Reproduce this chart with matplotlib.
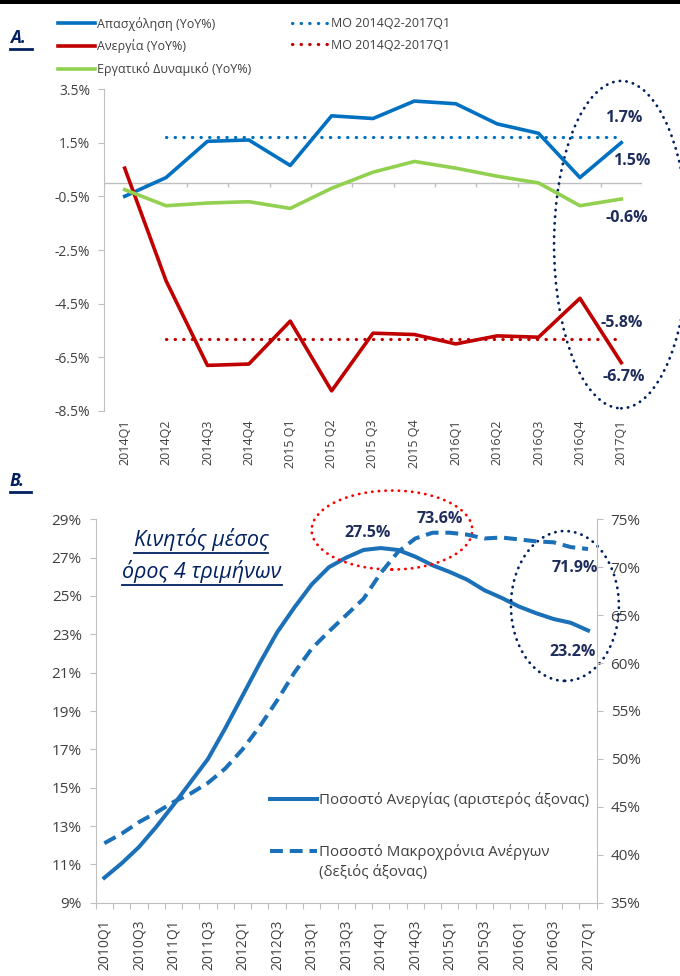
import numpy as np
import matplotlib
matplotlib.use('Agg')
import matplotlib.pyplot as plt
from matplotlib.lines import Line2D
from matplotlib.patches import Ellipse, Rectangle

plt.rcParams['font.family'] = ['Open Sans', 'DejaVu Sans']

# ---- panel A data (YoY %) ----
quarters_a = ['2014Q1', '2014Q2', '2014Q3', '2014Q4', '2015 Q1', '2015 Q2', '2015 Q3',
              '2015 Q4', '2016Q1', '2016Q2', '2016Q3', '2016Q4', '2017Q1']
employment = [-0.5, 0.2, 1.55, 1.6, 0.65, 2.5, 2.4, 3.05, 2.95, 2.2, 1.85, 0.2, 1.5]
unemployment = [0.55, -3.65, -6.8, -6.75, -5.15, -7.75, -5.6, -5.65, -6.0, -5.7, -5.75, -4.3, -6.7]
labour_force = [-0.25, -0.85, -0.75, -0.7, -0.95, -0.2, 0.4, 0.8, 0.55, 0.25, 0.0, -0.85, -0.6]
mo_employment = 1.7
mo_unemployment = -5.8
yticks_a = [-8.5, -6.5, -4.5, -2.5, -0.5, 1.5, 3.5]

# ---- panel B data (4-quarter moving average, %) ----
quarters_b = [f'{y}Q{q}' for y in range(2010, 2018) for q in range(1, 5)][:29]
unemp_rate = [10.3, 11.05, 11.9, 12.95, 14.1, 15.3, 16.5, 18.1, 19.8, 21.5, 23.1, 24.4,
              25.6, 26.5, 27.0, 27.4, 27.5, 27.4, 27.05, 26.6, 26.25, 25.85, 25.3, 24.9,
              24.45, 24.1, 23.8, 23.6, 23.2]
long_term = [41.2, 42.2, 43.4, 44.4, 45.5, 46.4, 47.5, 49.0, 51.0, 53.4, 56.1, 59.0,
             61.5, 63.3, 65.0, 66.7, 69.4, 71.6, 73.0, 73.6, 73.6, 73.4, 73.0, 73.1,
             72.9, 72.7, 72.6, 72.1, 71.9]

BLUE = '#0070C0'
RED = '#C00000'
GREEN = '#92D050'
BBLUE = '#1C70B8'
NAVY = '#1F2D5C'
DNAVY = '#002060'
GRID = '#BFBFBF'
TXT = '#404040'

fig = plt.figure(figsize=(6.8, 9.76), dpi=100)
W, H = 680, 976


def fig_box(x0, y0, x1, y1):
    return [x0 / W, 1 - y1 / H, (x1 - x0) / W, (y1 - y0) / H]


fig.add_artist(Rectangle((0, 1 - 4 / H), 1, 4 / H, transform=fig.transFigure,
                         color='black', lw=0))

# ================= panel A =================
axA = fig.add_axes(fig_box(104, 89, 642, 411))
xa = np.arange(len(quarters_a))
l_emp, = axA.plot(xa, employment, color=BLUE, lw=2.6, solid_joinstyle='round')
l_une, = axA.plot(xa, unemployment, color=RED, lw=2.6, solid_joinstyle='round')
l_lf, = axA.plot(xa, labour_force, color=GREEN, lw=2.6, solid_joinstyle='round')
dots = (0, (0.1, 2.6))
l_mo1, = axA.plot(xa[1:], [mo_employment] * (len(xa) - 1), color=BLUE, lw=2.3,
                  linestyle=dots, dash_capstyle='round')
l_mo2, = axA.plot(xa[1:], [mo_unemployment] * (len(xa) - 1), color=RED, lw=2.3,
                  linestyle=dots, dash_capstyle='round')

axA.set_xlim(-0.5, len(xa) - 0.5)
axA.set_ylim(-8.5, 3.5)
axA.set_yticks(yticks_a, [f'{v:.1f}%' for v in yticks_a])
axA.set_xticks(xa, quarters_a, rotation=90)
axA.tick_params(axis='x', length=0, pad=6, labelsize=9, labelcolor=TXT)
axA.tick_params(axis='y', length=4, color=GRID, pad=6, labelsize=10, labelcolor=TXT)
for s in ['top', 'right', 'bottom']:
    axA.spines[s].set_visible(False)
axA.spines['left'].set_color(GRID)
axA.axhline(0, color=GRID, lw=1, zorder=0)
axA.vlines(np.arange(-0.5, len(xa)), 0, -0.15, color=GRID, lw=1, zorder=0)

last = len(xa) - 1
lab_kw = dict(textcoords='offset pixels', ha='center', va='center', color=NAVY,
              fontsize=11.5, fontweight='bold', annotation_clip=False)
axA.annotate(f'{mo_employment:.1f}%', (last, mo_employment), xytext=(2, 19), **lab_kw)
axA.annotate(f'{employment[-1]:.1f}%', (last, employment[-1]), xytext=(10, -18), **lab_kw)
axA.annotate(f'{labour_force[-1]:.1f}%', (last, labour_force[-1]), xytext=(6, -19), **lab_kw)
axA.annotate(f'{mo_unemployment:.1f}%', (last, mo_unemployment), xytext=(0, 16), **lab_kw)
axA.annotate(f'{unemployment[-1]:.1f}%', (last, unemployment[-1]), xytext=(2, -14), **lab_kw)

ellA = Ellipse((last, -2.3), 3.25, 12.2, fill=False, edgecolor=DNAVY, lw=2,
               linestyle=(0, (0.1, 2.3)), clip_on=False)
ellA.set_capstyle('round')
axA.add_patch(ellA)

leg_kw = dict(frameon=False, labelcolor=TXT, borderpad=0, borderaxespad=0,
              handletextpad=0.15, loc='upper left')
fig.legend([l_emp, l_une, l_lf],
           ['Απασχόληση (YoY%)', 'Ανεργία (YoY%)', 'Εργατικό Δυναμικό (YoY%)'],
           bbox_to_anchor=(58 / W, 1 - 17 / H), handlelength=2.95, labelspacing=0.7,
           fontsize=9, **leg_kw)
fig.legend([l_mo1, l_mo2], ['ΜΟ 2014Q2-2017Q1', 'ΜΟ 2014Q2-2017Q1'],
           bbox_to_anchor=(292 / W, 1 - 17 / H), handlelength=2.95, labelspacing=0.7,
           fontsize=9, **leg_kw)

# ================= panel B =================
axB = fig.add_axes(fig_box(95.7, 519.3, 596.7, 902.7))
axB2 = axB.twinx()
xb = np.arange(len(quarters_b))
l_ur, = axB.plot(xb, unemp_rate, color=BBLUE, lw=2.9, solid_joinstyle='round')
l_lt, = axB2.plot(xb, long_term, color=BBLUE, lw=2.9, linestyle=(0, (3.2, 1.7)))

axB.set_xlim(-0.5, len(xb) - 0.5)
axB.set_ylim(9, 29)
axB2.set_ylim(35, 75)
yl = list(range(9, 30, 2))
yr = list(range(35, 76, 5))
axB.set_yticks(yl, [f'{v}%' for v in yl])
axB2.set_yticks(yr, [f'{v}%' for v in yr])
axB.set_xticks(np.arange(-0.5, len(xb)), [])
axB.set_xticks(xb[::2], quarters_b[::2], minor=True, rotation=90)
axB.tick_params(axis='x', which='major', length=4, color=GRID)
axB.tick_params(axis='x', which='minor', length=0, pad=12, labelsize=10, labelcolor=TXT)
axB.tick_params(axis='y', length=4, color=GRID, pad=6, labelsize=11, labelcolor=TXT)
axB2.tick_params(axis='y', length=4, color=GRID, pad=6, labelsize=11, labelcolor=TXT)
axB.spines['top'].set_visible(False)
axB.spines['right'].set_visible(False)
for s in ['top', 'left', 'bottom']:
    axB2.spines[s].set_visible(False)
for sp in [axB.spines['left'], axB.spines['bottom'], axB2.spines['right']]:
    sp.set_color(GRID)

lastb = len(xb) - 1
peak_u = int(np.argmax(unemp_rate))
peak_l = int(np.argmax(long_term))
axB.annotate(f'{unemp_rate[peak_u]:.1f}%', (peak_u, unemp_rate[peak_u]), xytext=(-13, 15), **lab_kw)
axB2.annotate(f'{long_term[peak_l]:.1f}%', (peak_l, long_term[peak_l]), xytext=(7, 14), **lab_kw)
axB2.annotate(f'{long_term[-1]:.1f}%', (lastb, long_term[-1]), xytext=(-13, -19), **lab_kw)
axB.annotate(f'{unemp_rate[-1]:.1f}%', (lastb, unemp_rate[-1]), xytext=(-15, -22), **lab_kw)

ellR = Ellipse((16.65, 28.44), 9.3, 4.12, fill=False, edgecolor='#FF0000', lw=2,
               linestyle=(0, (0.1, 2.3)), clip_on=False, transform=axB.transData)
ellN = Ellipse((26.66, 24.48), 6.25, 7.82, fill=False, edgecolor=DNAVY, lw=2,
               linestyle=(0, (0.1, 2.3)), clip_on=False, transform=axB.transData)
for e in (ellR, ellN):
    e.set_capstyle('round')
    axB2.add_patch(e)

legB = axB2.legend([l_ur, l_lt],
                   ['Ποσοστό Ανεργίας (αριστερός άξονας)', 'Ποσοστό Μακροχρόνια Ανέργων'],
                   bbox_to_anchor=(270 / W, 1 - 792 / H), bbox_transform=fig.transFigure,
                   handlelength=3.1, labelspacing=2.4, fontsize=10.8, **leg_kw)

# ---- titles and notes with underline ----
fig.canvas.draw()
renderer = fig.canvas.get_renderer()

# second line of the dashed legend entry, under its first line
bb2 = legB.get_texts()[1].get_window_extent(renderer)
fig.text(bb2.x0 / W, (bb2.y0 - 20) / H, '(δεξιός άξονας)', fontsize=10.8, color=TXT,
         ha='left', va='bottom')


def underline(t, y_off=2, lw=1.3, color=DNAVY, extra=0):
    bb = t.get_window_extent(renderer)
    y = bb.y0 - y_off
    fig.add_artist(Line2D([bb.x0 / W, (bb.x1 + extra) / W], [y / H, y / H],
                          transform=fig.transFigure, color=color, lw=lw))


tA = fig.text(10 / W, 1 - 43 / H, 'A.', fontsize=12.5, fontweight='bold', fontstyle='italic',
              color=DNAVY, va='baseline')
tB = fig.text(10 / W, 1 - 486 / H, 'B.', fontsize=12.5, fontweight='bold', fontstyle='italic',
              color=DNAVY, va='baseline')
n1 = fig.text(201 / W, 1 - 546 / H, 'Κινητός μέσος', fontsize=15.5, fontstyle='italic',
              color=DNAVY, ha='center', va='baseline')
n2 = fig.text(202 / W, 1 - 578 / H, 'όρος 4 τριμήνων', fontsize=15.5, fontstyle='italic',
              color=DNAVY, ha='center', va='baseline')
fig.canvas.draw()
underline(tA, y_off=2, lw=2, extra=6)
underline(tB, y_off=2, lw=2, extra=6)
underline(n1, y_off=2, lw=1.3)
underline(n2, y_off=2, lw=1.3)

fig.savefig('out.png', dpi=100)
